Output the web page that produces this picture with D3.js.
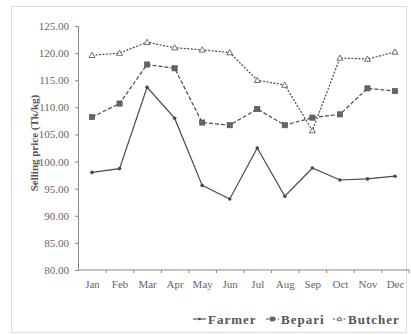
<!DOCTYPE html>
<html><head><meta charset="utf-8">
<script src="https://cdn.jsdelivr.net/npm/d3@7"></script>
<style>body{margin:0;background:#fff}svg{display:block}</style>
</head><body><svg id="c" width="411" height="335"></svg>
<script>
const months = ["Jan","Feb","Mar","Apr","May","Jun","Jul","Aug","Sep","Oct","Nov","Dec"];
const farmer  = [98.0, 98.7, 113.7, 108.0, 95.6, 93.1, 102.5, 93.6, 98.8, 96.6, 96.8, 97.3];
const bepari  = [108.2, 110.7, 117.9, 117.2, 107.2, 106.7, 109.7, 106.7, 108.1, 108.7, 113.5, 113.0];
const butcher = [119.6, 120.0, 122.0, 121.0, 120.6, 120.1, 115.0, 114.1, 105.7, 119.1, 118.9, 120.2];
const yTicks = [80,85,90,95,100,105,110,115,120,125];
const seriesNames = ["Farmer","Bepari","Butcher"];

const svg = d3.select("#c");
const ink = "#4a4a4a";
const font = "'Liberation Serif', 'DejaVu Serif', serif";

svg.append("rect").attr("x",11.5).attr("y",6.5).attr("width",395).attr("height",326)
  .attr("fill","none").attr("stroke","#dcdcdc").attr("stroke-width",1);

const x = d3.scalePoint().domain(months).range([92,395]);
const y = d3.scaleLinear().domain([80,125]).range([270,26]);
const x0 = 78, x1 = 409;

const ya = svg.append("g").attr("transform",`translate(${x0},0)`)
  .call(d3.axisLeft(y).tickValues(yTicks).tickFormat(d3.format(".2f")).tickSize(3));
ya.select(".domain").attr("stroke","#888");
ya.selectAll(".tick line").attr("stroke","#888");
ya.selectAll("text").attr("font-family",font).attr("font-size",11).attr("fill","#666").attr("dx",-3);

const xs = d3.scaleBand().domain(months).range([x0,x1]);
const xa = svg.append("g").attr("transform",`translate(0,270)`)
  .call(d3.axisBottom(x).tickSize(3).tickSizeOuter(0));
xa.select(".domain").attr("d",`M${x0},0H${x1}`).attr("stroke","#888");
xa.selectAll(".tick line").attr("stroke","#888").attr("transform",`translate(${xs.bandwidth()/2},0)`);
xa.selectAll("text").attr("font-family",font).attr("font-size",11).attr("fill","#666").attr("dy",12);

svg.append("text").attr("transform","translate(38,143) rotate(-90)")
  .attr("text-anchor","middle").attr("font-family",font).attr("font-size",11).attr("font-weight","bold")
  .attr("fill","#555").text("Selling price (Tk/kg)");

const line = d3.line().x((d,i)=>x(months[i])).y(d=>y(d));
const styles = [
  {data:farmer, dash:null, marker:"dot"},
  {data:bepari, dash:"4,2", marker:"square"},
  {data:butcher, dash:"2,1.5", marker:"triangle"}
];
function drawMarker(g, type, cx, cy, s){
  s = s || 1;
  if(type==="dot") g.append("circle").attr("cx",cx).attr("cy",cy).attr("r",1.8*s).attr("fill",ink);
  else if(type==="square") g.append("rect").attr("x",cx-2.6*s).attr("y",cy-2.6*s).attr("width",5.2*s).attr("height",5.2*s).attr("fill","#666").attr("stroke",ink).attr("stroke-width",0.6);
  else g.append("path").attr("d",`M${cx},${cy-3*s}L${cx+3*s},${cy+2.2*s}L${cx-3*s},${cy+2.2*s}Z`).attr("fill","#fff").attr("stroke",ink).attr("stroke-width",0.8);
}
styles.forEach(s=>{
  svg.append("path").datum(s.data).attr("d",line).attr("fill","none")
    .attr("stroke",ink).attr("stroke-width",1.2).attr("stroke-dasharray",s.dash);
  const g = svg.append("g");
  s.data.forEach((v,i)=>drawMarker(g,s.marker,x(months[i]),y(v)));
});

const legX = [193, 266, 333];
seriesNames.forEach((n,i)=>{
  const lx = legX[i], ly = 319;
  svg.append("line").attr("x1",lx).attr("x2",lx+13).attr("y1",ly).attr("y2",ly)
    .attr("stroke",ink).attr("stroke-width",1.1).attr("stroke-dasharray",styles[i].dash);
  const g = svg.append("g");
  drawMarker(g, styles[i].marker, lx+6.5, ly, 0.75);
  svg.append("text").attr("x",lx+15).attr("y",ly+4.5).attr("font-family",font)
    .attr("font-size",13).attr("font-weight","bold").attr("fill","#555").attr("letter-spacing",1).text(n);
});
</script></body></html>
